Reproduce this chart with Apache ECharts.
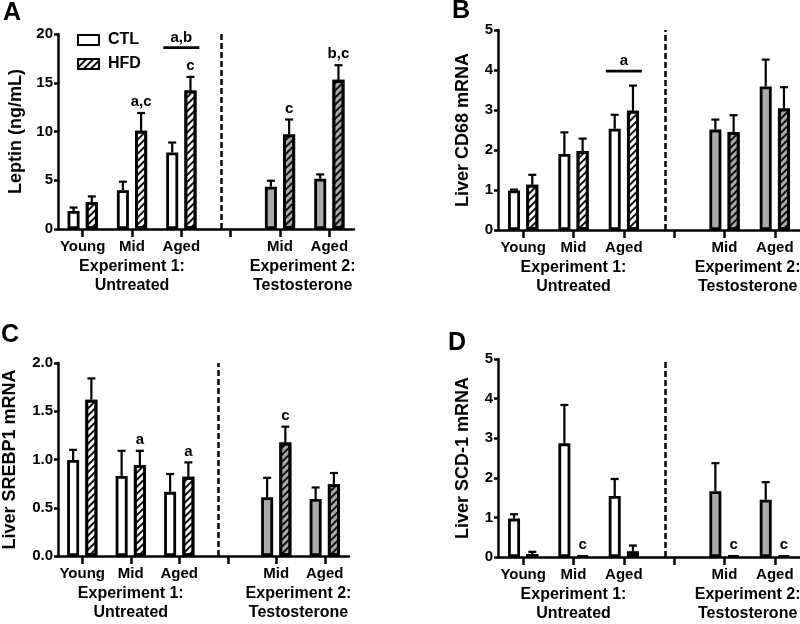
<!DOCTYPE html>
<html><head><meta charset="utf-8">
<script src="https://cdn.jsdelivr.net/npm/echarts@6/dist/echarts.min.js"></script>
<style>html,body{margin:0;padding:0;background:#fff}#c{width:800px;height:624px}</style>
</head><body><div id="c"></div>
<script>
// ---------- data ----------
const categories = ['Young', 'Mid', 'Aged', '', 'Mid', 'Aged'];
const expLabels = ['Experiment 1:\nUntreated', 'Experiment 2:\nTestosterone'];
const seriesNames = ['CTL', 'HFD'];

// Panel A: Leptin
const leptinCTL = [1.84, 3.97, 7.85, null, 4.33, 5.15];
const leptinCTLsem = [0.36, 0.88, 1.02, null, 0.62, 0.45];
const leptinHFD = [2.76, 10.07, 14.2, null, 9.69, 15.3];
const leptinHFDsem = [0.58, 1.83, 1.4, null, 1.54, 1.5];
const leptinSig = ['', 'a,c', 'c', '', 'c', 'b,c'];
const leptinBracket = [2, 18.6, 'a,b'];
const leptinTicks = [0, 20, 5];

// Panel B: Liver CD68 mRNA
const cd68CTL = [0.99, 1.9, 2.53, null, 2.51, 3.59];
const cd68CTLsem = [0.02, 0.54, 0.35, null, 0.25, 0.67];
const cd68HFD = [1.13, 1.975, 2.98, null, 2.45, 3.04];
const cd68HFDsem = [0.25, 0.31, 0.63, null, 0.42, 0.53];
const cd68Sig = ['', '', '', '', '', ''];
const cd68Bracket = [2, 3.97, 'a'];
const cd68Ticks = [0, 5, 1];

// Panel C: Liver SREBP1 mRNA
const srebpCTL = [0.995, 0.83, 0.665, null, 0.61, 0.59];
const srebpCTLsem = [0.105, 0.26, 0.185, null, 0.2, 0.12];
const srebpHFD = [1.62, 0.94, 0.82, null, 1.175, 0.745];
const srebpHFDsem = [0.22, 0.15, 0.15, null, 0.165, 0.115];
const srebpSig = ['', 'a', 'a', '', 'c', ''];
const srebpTicks = [0, 2, 0.5];

// Panel D: Liver SCD-1 mRNA
const scdCTL = [0.97, 2.87, 1.54, null, 1.66, 1.445];
const scdCTLsem = [0.11, 0.97, 0.43, null, 0.71, 0.445];
const scdHFD = [0.075, 0.025, 0.14, null, 0.035, 0.035];
const scdHFDsem = [0.055, 0, 0.15, null, 0, 0];
const scdSig = ['', 'c', '', '', 'c', 'c'];
const scdTicks = [0, 5, 1];

// ---------- layout / style ----------
const FONT = '"Liberation Sans", Arial, Helvetica, sans-serif';
const WHITE = '#ffffff', GRAY = '#aaaaaa';
const BAR_W = 12, BAR_GAP = 0.52, BORDER = 2.8;
const OFFSET = BAR_W * (1 + BAR_GAP) / 2;
const CAP = 8, BR_HALF = 18;
const hatch = {symbol: 'rect', symbolSize: 1, color: '#111', dashArrayX: [1, 0], dashArrayY: [2, 3], rotation: -Math.PI / 4};

const grids = [
  {left: 58, top: 34, width: 296, height: 195},
  {left: 498, top: 30, width: 302, height: 200},
  {left: 58, top: 363, width: 291, height: 193},
  {left: 498, top: 359, width: 302, height: 198}
];
const nameGaps = [33, 26, 39, 26];
const panelLetters = [[3, 13.5, 'A'], [452, 11.5, 'B'], [1, 335.5, 'C'], [448, 343.5, 'D']];

const panels = [
  {ctl: leptinCTL, ctlSem: leptinCTLsem, hfd: leptinHFD, hfdSem: leptinHFDsem, sig: leptinSig, bracket: leptinBracket, name: 'Leptin (ng/mL)', ticks: leptinTicks, dec: 0},
  {ctl: cd68CTL, ctlSem: cd68CTLsem, hfd: cd68HFD, hfdSem: cd68HFDsem, sig: cd68Sig, bracket: cd68Bracket, name: 'Liver CD68 mRNA', ticks: cd68Ticks, dec: 0},
  {ctl: srebpCTL, ctlSem: srebpCTLsem, hfd: srebpHFD, hfdSem: srebpHFDsem, sig: srebpSig, bracket: null, name: 'Liver SREBP1 mRNA', ticks: srebpTicks, dec: 1},
  {ctl: scdCTL, ctlSem: scdCTLsem, hfd: scdHFD, hfdSem: scdHFDsem, sig: scdSig, bracket: null, name: 'Liver SCD-1 mRNA', ticks: scdTicks, dec: 0}
];

const boldText = (size) => ({fontFamily: FONT, fontWeight: 'bold', fontSize: size, color: '#000'});

function errSeries(g, means, sems, sigs, side) {
  const rows = [];
  means.forEach((m, i) => { if (m != null) rows.push([i, m, sems[i]]); });
  return {
    type: 'custom', name: 'err', xAxisIndex: g, yAxisIndex: g, silent: true, z: 5,
    encode: {x: 0, y: 1}, data: rows,
    renderItem: function (params, api) {
      const i = api.value(0), m = api.value(1), s = api.value(2);
      const p0 = api.coord([i, m]);
      const p1 = api.coord([i, m + s]);
      const x = p0[0] + side * OFFSET;
      const children = [];
      if (s > 0.001) {
        children.push({type: 'line', shape: {x1: x, y1: p0[1], x2: x, y2: p1[1]}, style: {stroke: '#000', lineWidth: 2.2}});
        children.push({type: 'line', shape: {x1: x - CAP / 2, y1: p1[1], x2: x + CAP / 2, y2: p1[1]}, style: {stroke: '#000', lineWidth: 2.2}});
      }
      const t = sigs ? sigs[i] : '';
      if (t) {
        children.push({type: 'text', style: {text: t, x: x, y: p1[1] - 11, align: 'center', verticalAlign: 'middle', fontFamily: FONT, fontWeight: 'bold', fontSize: 15, fill: '#000'}});
      }
      return {type: 'group', children: children};
    }
  };
}

function bracketSeries(g, br) {
  return {
    type: 'custom', name: 'bracket', xAxisIndex: g, yAxisIndex: g, silent: true, z: 5,
    encode: {x: 0, y: 1}, data: [[br[0], br[1]]],
    renderItem: function (params, api) {
      const p = api.coord([api.value(0), api.value(1)]);
      return {type: 'group', children: [
        {type: 'line', shape: {x1: p[0] - BR_HALF, y1: p[1], x2: p[0] + BR_HALF, y2: p[1]}, style: {stroke: '#000', lineWidth: 2.8}},
        {type: 'text', style: {text: br[2], x: p[0], y: p[1] - 10, align: 'center', verticalAlign: 'middle', fontFamily: FONT, fontWeight: 'bold', fontSize: 15, fill: '#000'}}
      ]};
    }
  };
}

const option = {
  animation: false,
  backgroundColor: '#fff',
  legend: {
    data: seriesNames, left: 72, top: 26, orient: 'vertical', icon: 'rect',
    itemWidth: 21, itemHeight: 10, itemGap: 6, selectedMode: false,
    textStyle: Object.assign(boldText(16), {lineHeight: 18, padding: [0, 0, 0, 4]})
  },
  grid: grids.map(g => Object.assign({containLabel: false, outerBoundsMode: 'none'}, g)),
  xAxis: grids.map((_, g) => ({
    type: 'category', gridIndex: g, data: categories, boundaryGap: true,
    axisLine: {show: true, lineStyle: {color: '#000', width: 2.5}},
    axisTick: {show: true, alignWithLabel: true, interval: 0, length: 8, lineStyle: {color: '#000', width: 2.5}},
    axisLabel: Object.assign(boldText(15), {interval: 0, margin: 10}),
    splitLine: {show: false}
  })),
  yAxis: panels.map((p, g) => ({
    type: 'value', gridIndex: g, min: p.ticks[0], max: p.ticks[1], interval: p.ticks[2],
    name: p.name, nameLocation: 'middle', nameGap: nameGaps[g],
    nameTextStyle: boldText(18),
    axisLine: {show: true, lineStyle: {color: '#000', width: 2.5}},
    axisTick: {show: true, length: 4, lineStyle: {color: '#000', width: 2.5}},
    axisLabel: Object.assign(boldText(15), {margin: 5, formatter: v => v.toFixed(p.dec)}),
    splitLine: {show: false}
  })),
  series: []
};

panels.forEach((p, g) => {
  option.series.push({
    type: 'bar', name: 'CTL', xAxisIndex: g, yAxisIndex: g, barWidth: BAR_W, barGap: (BAR_GAP * 100) + '%',
    itemStyle: {color: WHITE, borderColor: '#000', borderWidth: BORDER},
    emphasis: {disabled: true},
    data: p.ctl.map((v, i) => v == null ? '-' : {value: v, itemStyle: {color: i > 3 ? GRAY : WHITE}}),
    markLine: {
      silent: true, symbol: ['none', 'none'], label: {show: false}, animation: false,
      lineStyle: {color: '#000', width: 2.5, type: [6, 3]},
      emphasis: {disabled: true},
      data: [{xAxis: 3}]
    }
  });
  option.series.push({
    type: 'bar', name: 'HFD', xAxisIndex: g, yAxisIndex: g, barWidth: BAR_W, barGap: (BAR_GAP * 100) + '%',
    itemStyle: {color: WHITE, borderColor: '#000', borderWidth: BORDER, decal: hatch},
    emphasis: {disabled: true},
    data: p.hfd.map((v, i) => v == null ? '-' : {value: v, itemStyle: {color: i > 3 ? GRAY : WHITE, decal: hatch}})
  });
  option.series.push(errSeries(g, p.ctl, p.ctlSem, null, -1));
  option.series.push(errSeries(g, p.hfd, p.hfdSem, p.sig, 1));
  if (p.bracket) option.series.push(bracketSeries(g, p.bracket));
});

const chart = echarts.init(document.getElementById('c'), null, {renderer: 'canvas'});
chart.setOption(option);

const gfx = [];
panelLetters.forEach(l => {
  gfx.push({type: 'text', x: l[0], y: l[1], style: {text: l[2], align: 'left', verticalAlign: 'middle', fontFamily: FONT, fontWeight: 'bold', fontSize: 25, fill: '#000'}});
});
grids.forEach((_, g) => {
  const y0 = chart.convertToPixel({yAxisIndex: g}, 0);
  const x1 = chart.convertToPixel({xAxisIndex: g}, 1);
  const x4 = chart.convertToPixel({xAxisIndex: g}, 4);
  const x5 = chart.convertToPixel({xAxisIndex: g}, 5);
  [[x1, expLabels[0]], [(x4 + x5) / 2 - 2, expLabels[1]]].forEach(e => {
    gfx.push({type: 'text', x: e[0], y: y0 + 28, style: {text: e[1], align: 'center', verticalAlign: 'top', lineHeight: 19, fontFamily: FONT, fontWeight: 'bold', fontSize: 16, fill: '#000'}});
  });
});
chart.setOption({graphic: gfx});
</script></body></html>
